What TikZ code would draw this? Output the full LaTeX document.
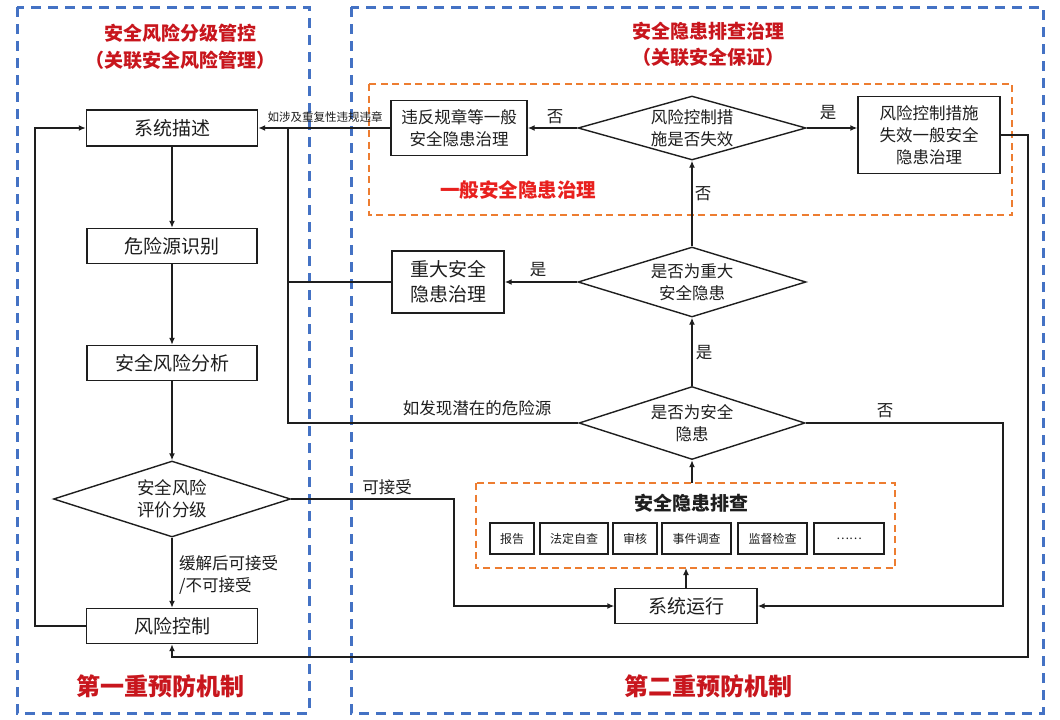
\documentclass[tikz,border=0pt]{standalone}
\usepackage{fontspec}
\setmainfont{Noto Sans CJK SC}
\usetikzlibrary{shapes.geometric,arrows.meta}
\definecolor{dblue}{HTML}{4472C4}
\definecolor{dorange}{HTML}{ED7D31}
\definecolor{dred}{HTML}{C8161D}
\definecolor{bred}{HTML}{E8201E}
\definecolor{ink}{HTML}{1E1E1E}
\newcommand\myBig{\fontsize{19}{25}\selectfont}
\newcommand\myMid{\fontsize{16.5}{22}\selectfont}
\newcommand\mySmall{\fontsize{12}{14}\selectfont}
\newcommand\myTiny{\fontsize{11.5}{13}\selectfont}
\begin{document}
\begin{tikzpicture}[x=1pt,y=-1pt,
  box/.style={draw=ink, line width=1.4pt, fill=white, text=ink, inner sep=0pt, align=center, font=\myBig},
  mbox/.style={box, font=\myMid},
  sbox/.style={draw=ink, line width=1.4pt, fill=white, text=ink, inner sep=0pt, minimum height=31, font=\mySmall},
  dia/.style={diamond, draw=ink, line width=1.4pt, fill=white, text=ink, inner sep=0pt, align=center, font=\myMid, shape aspect=3.4},
  arr/.style={draw=ink, line width=1.4pt, -{Latex[length=7pt,width=6pt]}},
  ln/.style={draw=ink, line width=1.4pt},
  lab/.style={text=ink, font=\myMid, inner sep=1pt},
  bluebox/.style={draw=dblue, line width=3pt, dash pattern=on 10pt off 7pt},
  orbox/.style={draw=dorange, line width=2.8pt, dash pattern=on 7pt off 4.5pt},
  title/.style={text=dred, font=\fontsize{19}{23}\selectfont\bfseries, align=center},
  mech/.style={text=dred, font=\fontsize{24}{28}\selectfont\bfseries}
]
\useasboundingbox (0,0) rectangle (1060,720);
\fill[white] (0,0) rectangle (1060,720);

% frames
\draw[bluebox] (17,7) rectangle (309,713);
\draw[bluebox] (351,7) rectangle (1043,713);
\draw[orbox] (369,84) rectangle (1012,215);
\draw[orbox] (476,483) rectangle (895,568);

% titles
\node[title] (t1) at (180,33) {安全风险分级管控};
\node[title] (t1b) at (180,60) {（关联安全风险管理）};
\node[title] (t2) at (708,31) {安全隐患排查治理};
\node[title] (t2b) at (708,57) {（关联安全保证）};
\node[mech] (m1) at (160,686) {第一重预防机制};
\node[mech] (m2) at (708,686) {第二重预防机制};
\node[text=bred, font=\fontsize{19.5}{23}\selectfont\bfseries] (g1) at (518,190) {一般安全隐患治理};
\node[text=ink, font=\fontsize{19}{23}\selectfont\bfseries] (g2) at (691,503) {安全隐患排查};

% left column
\node[box, minimum width=171, minimum height=36] (sysdesc) at (172,128) {系统描述};
\node[box, minimum width=170, minimum height=35] (hazard) at (172,246) {危险源识别};
\node[box, minimum width=170, minimum height=35] (analysis) at (172,363) {安全风险分析};
\node[dia, minimum width=237, minimum height=76, font=\fontsize{17.5}{22}\selectfont] (evald) at (172,499) {安全风险\\评价分级};
\node[box, minimum width=171, minimum height=35] (riskctl) at (172,626) {风险控制};

% right column
\node[mbox, minimum width=136, minimum height=55] (viol) at (459,128) {违反规章等一般\\安全隐患治理};
\node[dia, minimum width=228, minimum height=64] (failD) at (692,128) {风险控制措\\施是否失效};
\node[mbox, minimum width=142, minimum height=77] (failbox) at (929,135) {风险控制措施\\失效一般安全\\隐患治理};
\node[box, minimum width=112, minimum height=62] (majorbox) at (448,282) {重大安全\\隐患治理};
\node[dia, minimum width=228, minimum height=70] (majorD) at (692,282) {是否为重大\\安全隐患};
\node[dia, minimum width=226, minimum height=73] (hazD) at (692,423) {是否为安全\\隐患};
\node[box, minimum width=142, minimum height=35] (sysrun) at (686,606) {系统运行};

% check sub-boxes
\node[sbox, minimum width=44] (c1) at (512,538.5) {报告};
\node[sbox, minimum width=68] (c2) at (574,538.5) {法定自查};
\node[sbox, minimum width=44] (c3) at (635,538.5) {审核};
\node[sbox, minimum width=69] (c4) at (696.5,538.5) {事件调查};
\node[sbox, minimum width=69] (c5) at (772.5,538.5) {监督检查};
\node[sbox, minimum width=70] (c6) at (849,538.5) {……};
\coordinate (chkS) at (686,568);
\coordinate (chkN) at (692,483);

% junction coordinates
\coordinate (jtop) at (288,128);
\coordinate (jmid) at (288,282);
\coordinate (jbot) at (288,423);

% left column connectors
\draw[arr] (sysdesc.south) -- (hazard.north);
\draw[arr] (hazard.south) -- (analysis.north);
\draw[arr] (analysis.south) -- (evald.north);
\draw[arr] (evald.south) -- (riskctl.north);
\node[lab, anchor=west, align=left] (l1) at (178,575) {缓解后可接受\\/不可接受};
\draw[arr] (riskctl.west) -- ++(-51,0) |- (sysdesc.west);

% acceptable path
\draw[arr] (evald.east) -- (454,499) |- (sysrun.west);
\node[lab] (l2) at (387,487) {可接受};

% top region
\draw[arr] (viol.west) -- (sysdesc.east);
\node[text=ink, font=\myTiny, inner sep=0pt] (l3) at (325,117) {如涉及重复性违规违章};
\draw[arr] (failD.west) -- (viol.east);
\node[lab] (l4) at (555,117) {否};
\draw[arr] (failD.east) -- (failD.east -| failbox.west);
\node[lab] (l5) at (828,113) {是};
\draw[arr] (majorD.north) -- (failD.south);
\node[lab] (l6) at (703,194) {否};

% major hazard
\draw[arr] (majorD.west) -- (majorbox.east);
\node[lab] (l7) at (538,270) {是};
\draw[ln] (majorbox.west) -- (jmid);
\draw[ln] (hazD.west) -- (jbot) -- (jtop);
\node[lab] (l8) at (477,408) {如发现潜在的危险源};
\draw[arr] (hazD.north) -- (majorD.south);
\node[lab] (l9) at (704,353) {是};
\draw[arr] (hazD.east) -- (1003,423) |- (sysrun.east);
\node[lab] (l10) at (885,411) {否};

% check flow
\draw[arr] (sysrun.north) -- (chkS);
\draw[arr] (chkN) -- (hazD.south);

% feedback to risk control
\draw[arr] (failbox.east) -- (1028,135) -- (1028,657) -| (riskctl.south);
\end{tikzpicture}
\end{document}
